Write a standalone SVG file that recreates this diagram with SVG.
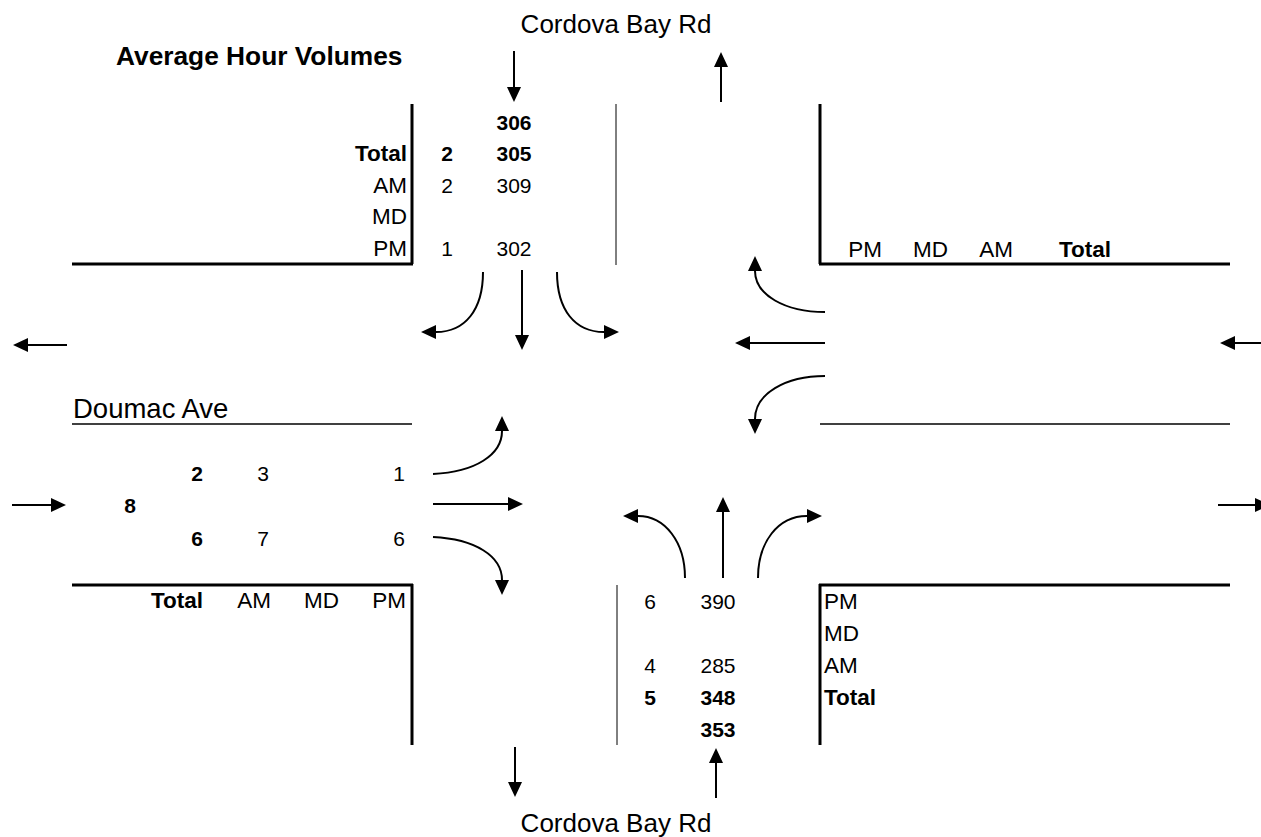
<svg xmlns="http://www.w3.org/2000/svg" width="1261" height="837" viewBox="0 0 1261 837">
<style>
  text { font-family: "Liberation Sans", Arial, sans-serif; fill: #000; }
  .lbl { font-size: 22.5px; }
  .num { font-size: 21px; }
  .b { font-weight: bold; }
  .road { font-size: 26px; }
  .title { font-size: 26.3px; font-weight: bold; }
  .thick { stroke: #000; stroke-width: 3; fill: none; }
  .thin { stroke: #000; stroke-width: 1.5; fill: none; }
  .hair { stroke: #000; stroke-width: 1; fill: none; }
  .arr { stroke: #000; stroke-width: 2; fill: none; marker-end: url(#ah); }
  .e { text-anchor: end; }
  .m { text-anchor: middle; }
</style>
<defs>
  <marker id="ah" viewBox="0 0 15 14" refX="0" refY="7" markerWidth="15" markerHeight="14" markerUnits="userSpaceOnUse" orient="auto">
    <path d="M0,0 L15,7 L0,14 Z" fill="#000"/>
  </marker>
</defs>
<rect width="1261" height="837" fill="#fff"/>

<g id="title">
  <text class="title" x="116" y="65">Average Hour Volumes</text>
</g>

<g id="road-north-label"><text class="road m" x="616" y="33">Cordova Bay Rd</text></g>
<g id="road-south-label"><text class="road m" x="616" y="832">Cordova Bay Rd</text></g>
<g id="road-west-label"><text class="road" x="73" y="418" style="font-size:27.5px">Doumac Ave</text></g>

<g id="curbs">
  <path class="thick" d="M412,104 V264 M72,264 H413"/>
  <path class="hair" d="M616,104 V265"/>
  <path class="thick" d="M820,104 V264 M819,264 H1230"/>
  <path class="thin" d="M72,424 H412"/>
  <path class="thin" d="M820,424 H1230"/>
  <path class="thick" d="M72,585 H413 M412,584 V745"/>
  <path class="hair" d="M617,585 V745"/>
  <path class="thick" d="M819,585 H1230 M820,584 V745"/>
</g>

<g id="north-approach">
  <text class="num b m" x="514" y="130">306</text>
  <text class="lbl b e" x="407" y="161">Total</text>
  <text class="num b m" x="447" y="161">2</text>
  <text class="num b m" x="514" y="161">305</text>
  <text class="lbl e" x="407" y="193">AM</text>
  <text class="num m" x="447" y="193">2</text>
  <text class="num m" x="514" y="193">309</text>
  <text class="lbl e" x="407" y="224">MD</text>
  <text class="lbl e" x="407" y="256">PM</text>
  <text class="num m" x="447" y="256">1</text>
  <text class="num m" x="514" y="256">302</text>
</g>

<g id="east-approach">
  <text class="lbl e" x="882" y="257">PM</text>
  <text class="lbl e" x="948" y="257">MD</text>
  <text class="lbl e" x="1013" y="257">AM</text>
  <text class="lbl b e" x="1111" y="257">Total</text>
</g>

<g id="west-approach">
  <text class="num b e" x="203" y="481">2</text>
  <text class="num e" x="269" y="481">3</text>
  <text class="num e" x="405" y="481">1</text>
  <text class="num b e" x="136" y="513">8</text>
  <text class="num b e" x="203" y="546">6</text>
  <text class="num e" x="269" y="546">7</text>
  <text class="num e" x="405" y="546">6</text>
  <text class="lbl b e" x="203" y="608">Total</text>
  <text class="lbl e" x="271" y="608">AM</text>
  <text class="lbl e" x="339" y="608">MD</text>
  <text class="lbl e" x="406" y="608">PM</text>
</g>

<g id="south-approach">
  <text class="num m" x="650" y="609">6</text>
  <text class="num m" x="718" y="609">390</text>
  <text class="num m" x="650" y="673">4</text>
  <text class="num m" x="718" y="673">285</text>
  <text class="num b m" x="650" y="705">5</text>
  <text class="num b m" x="718" y="705">348</text>
  <text class="num b m" x="718" y="737">353</text>
  <text class="lbl" x="824" y="609">PM</text>
  <text class="lbl" x="824" y="641">MD</text>
  <text class="lbl" x="824" y="673">AM</text>
  <text class="lbl b" x="824" y="705">Total</text>
</g>

<g id="connectors">
  <path class="arr" d="M514,51 L514,87"/>
  <path class="arr" d="M721,102 L721,67"/>
  <path class="arr" d="M522,270 L522,335"/>
  <path class="arr" d="M483,272 C483,310 465,332 436,332"/>
  <path class="arr" d="M557,272 C557,310 575,332 604,332"/>
  <path class="arr" d="M67,345 L28,345"/>
  <path class="arr" d="M1261,343 L1235,343"/>
  <path class="arr" d="M12,505 L51,505"/>
  <path class="arr" d="M1218,505 L1255,505"/>
  <path class="arr" d="M433,474 C475,472 502,455 502,431"/>
  <path class="arr" d="M433,504 L508,504"/>
  <path class="arr" d="M433,537 C475,539 502,556 502,580"/>
  <path class="arr" d="M825,312 C785,312 755,295 755,271"/>
  <path class="arr" d="M825,343 L750,343"/>
  <path class="arr" d="M825,376 C785,376 755,394 755,419"/>
  <path class="arr" d="M685,578 C685,542 665,516 638,516"/>
  <path class="arr" d="M723,578 L723,512"/>
  <path class="arr" d="M758,578 C758,542 778,516 807,516"/>
  <path class="arr" d="M515,747 L515,782"/>
  <path class="arr" d="M716,798 L716,763"/>
</g>
</svg>
